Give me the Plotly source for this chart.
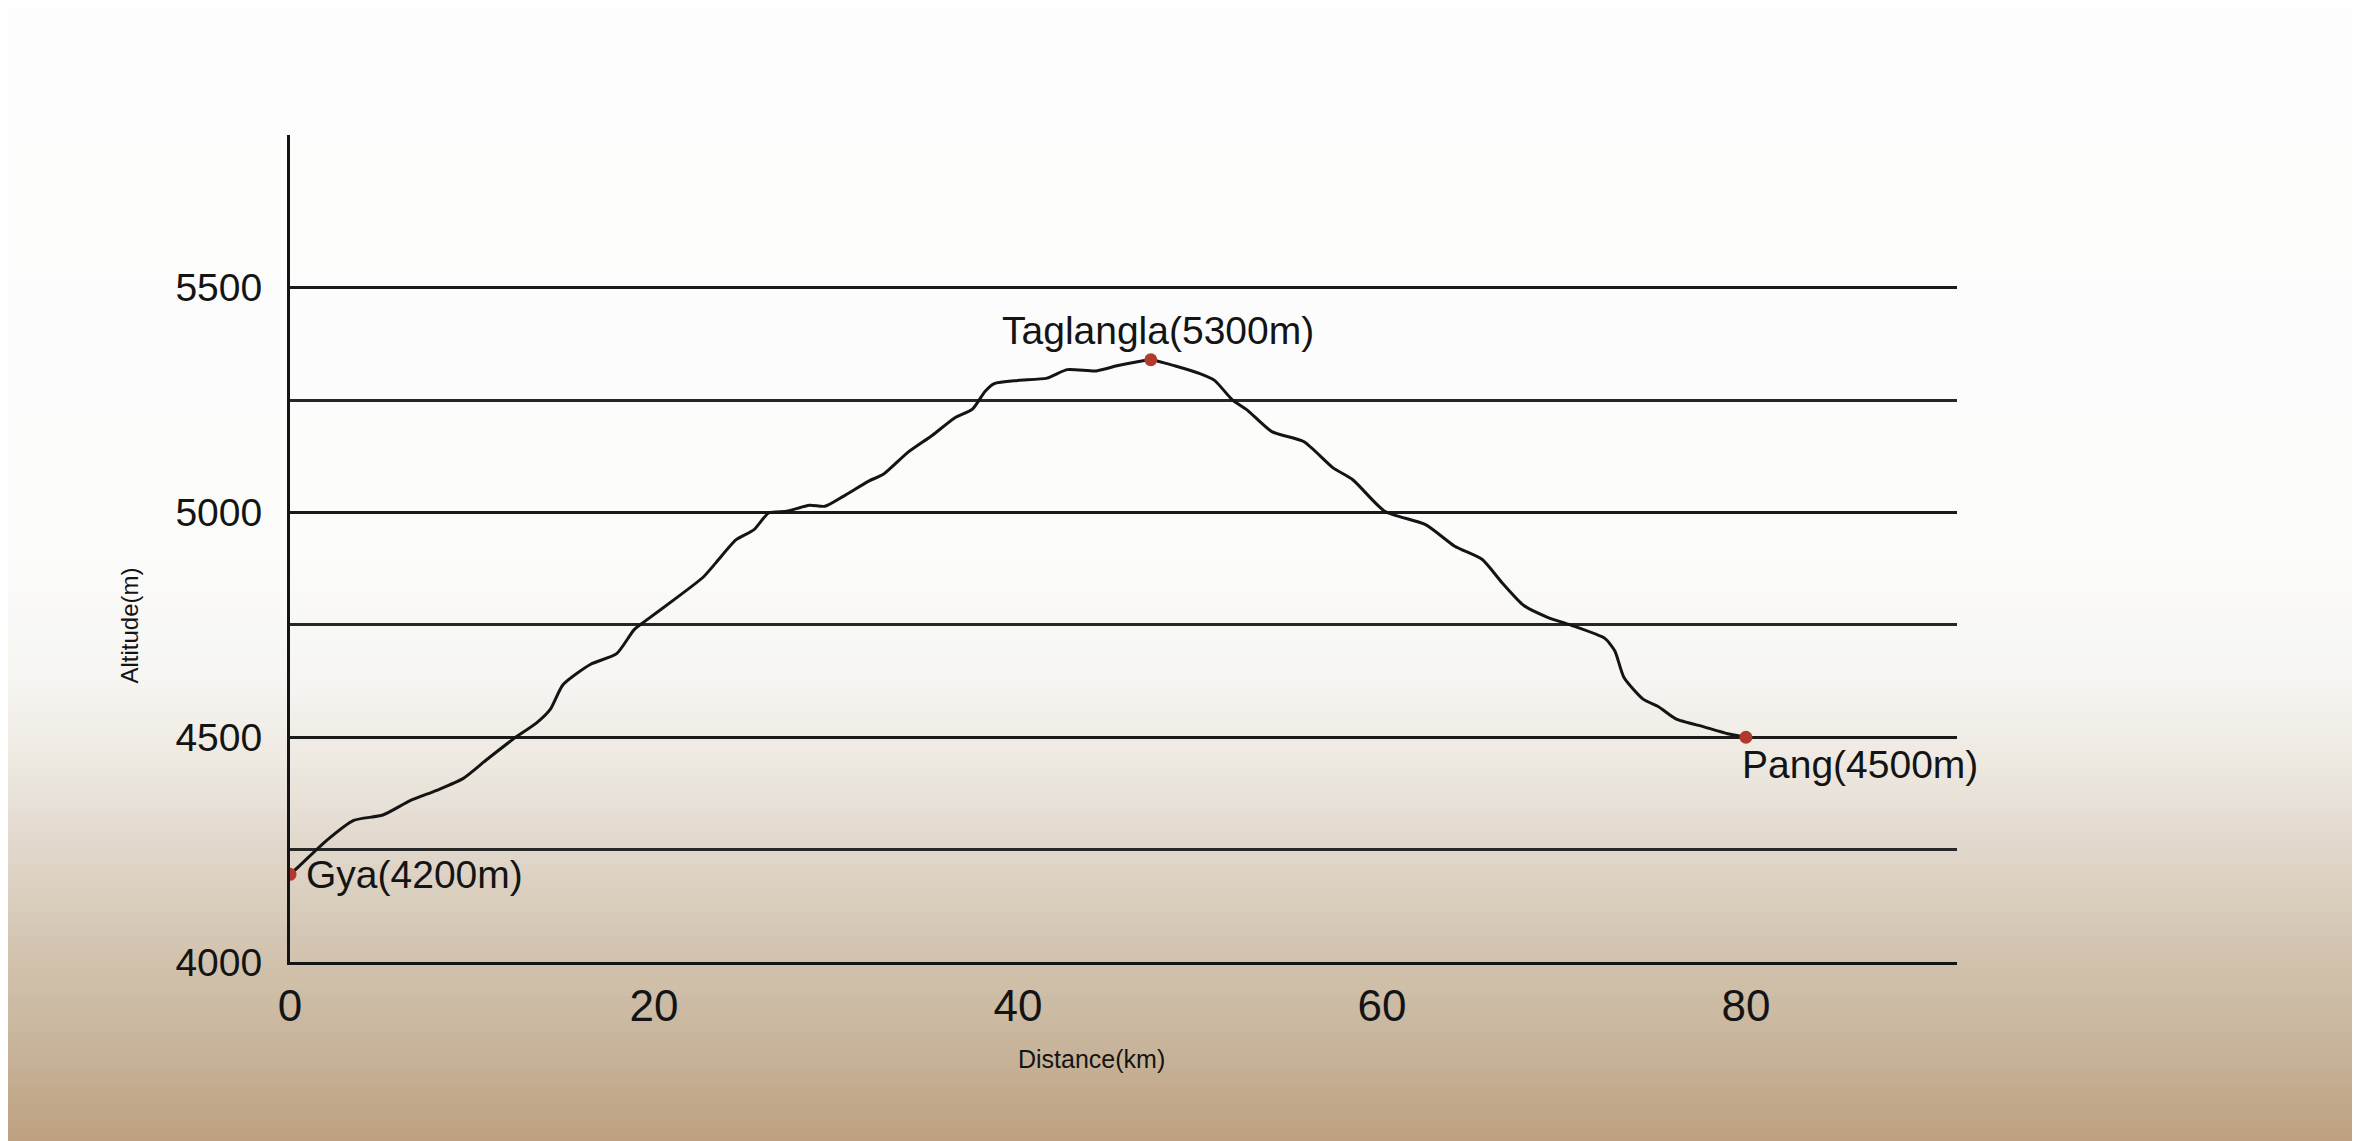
"""Altitude profile of the Gya - Taglangla - Pang road section.

Draws a hand-traced elevation profile (distance vs altitude) with the
three named places marked in red, on a paper-like white-to-sand backdrop.
"""

import plotly.graph_objects as go

# profile
distance_km = [0.0, 0.55, 2.0, 3.5, 5.1, 6.6, 8.06, 9.5, 10.8, 12.3, 13.55, 14.3,
               15.0, 16.5, 17.95, 18.9, 19.4, 21.2, 22.7, 23.4, 24.5, 25.5, 26.3,
               27.3, 28.55, 29.4, 30.4, 31.8, 32.6, 33.95, 35.3, 36.5, 37.5, 38.2,
               38.7, 40.0, 41.6, 42.7, 44.3, 45.5, 46.5, 47.3, 48.65, 50.0, 50.8,
               51.8, 52.6, 53.95, 55.7, 57.3, 58.4, 60.15, 62.4, 64.0, 65.5, 66.6,
               67.8, 69.1, 70.35, 72.25, 72.8, 73.3, 74.35, 75.2, 76.15, 77.7,
               79.0, 80.0]
altitude_m = [4195, 4215, 4270, 4315, 4327, 4359, 4382, 4408, 4450, 4497, 4532, 4562,
              4617, 4662, 4686, 4739, 4755, 4809, 4856, 4888, 4939, 4962, 4999,
              5003, 5016, 5014, 5036, 5070, 5085, 5134, 5172, 5210, 5230, 5270,
              5287, 5294, 5299, 5318, 5315, 5327, 5335, 5340, 5326, 5309, 5294,
              5250, 5228, 5180, 5158, 5100, 5073, 5003, 4973, 4925, 4896, 4844,
              4793, 4767, 4750, 4720, 4692, 4633, 4585, 4568, 4541, 4523,
              4508, 4500]

# named places
place_names = ["Gya(4200m)", "Taglangla(5300m)", "Pang(4500m)"]
place_km = [0.0, 47.3, 80.0]
place_alt = [4195, 5340, 4500]

x_ticks = [0, 20, 40, 60, 80]
y_ticks = [4000, 4500, 5000, 5500]

# page body has an 8px margin, so the figure is drawn 8px in from the corner
W, H = 2352, 1133
M_L, M_R, M_T, M_B = 282, 403, 127, 179
PLOT_W = W - M_L - M_R
PLOT_H = H - M_T - M_B

INK = "#141414"
DOT = "#b23a2c"
FONT = "Liberation Sans, Arial, Helvetica, sans-serif"

fig = go.Figure()

fig.add_trace(go.Scatter(x=distance_km, y=altitude_m, mode="lines",
                         line=dict(color=INK, width=3, shape="spline", smoothing=0.6),
                         hoverinfo="skip", showlegend=False))
fig.add_trace(go.Scatter(x=place_km, y=place_alt, mode="markers", text=place_names,
                         marker=dict(color=DOT, size=13), hovertemplate="%{text}<extra></extra>",
                         showlegend=False))

# labels: (xanchor, xshift, yshift) per place
label_pos = [("left", 14, 0), ("center", 7, 29), ("left", -6, -27)]
for name, x, y, (anc, dx, dy) in zip(place_names, place_km, place_alt, label_pos):
    fig.add_annotation(x=x, y=y, text=name, showarrow=False, xanchor=anc, yanchor="middle",
                       xshift=dx, yshift=dy, font=dict(family=FONT, size=39, color=INK))

# axis titles placed in paper space (page pixel -> paper fraction)
def px_x(px):
    return (px - 8 - M_L) / PLOT_W

def px_y(py):
    return (H - M_B - (py - 8)) / PLOT_H

fig.add_annotation(xref="paper", yref="paper", x=px_x(1091), y=px_y(1075),
                   text="Distance(km)", showarrow=False,
                   font=dict(family=FONT, size=25, color=INK))
fig.add_annotation(xref="paper", yref="paper", x=px_x(113), y=px_y(626),
                   text="Altitude(m)", showarrow=False, textangle=-90,
                   font=dict(family=FONT, size=24, color=INK))

# paper backdrop: white fading to sand towards the bottom (page pixel rows)
stops = [(0, (253, 253, 253)), (550, (252, 252, 251)), (680, (246, 245, 242)),
         (760, (238, 233, 225)), (850, (224, 215, 203)), (950, (211, 196, 176)),
         (1050, (199, 180, 154)), (1141, (190, 160, 128))]

def colour_at(py):
    for (p0, c0), (p1, c1) in zip(stops[:-1], stops[1:]):
        if p0 <= py <= p1:
            t = (py - p0) / (p1 - p0)
            return "rgb({},{},{})".format(*[round(a + (b - a) * t) for a, b in zip(c0, c1)])
    return "rgb(%d,%d,%d)" % stops[-1][1]

band = 6
for top in range(0, 1141 + 8, band):
    fig.add_shape(type="rect", xref="paper", yref="paper", x0=-1, x1=2,
                  y0=px_y(top + band), y1=px_y(top),
                  fillcolor=colour_at(top + band / 2), line_width=0, layer="below")

fig.update_xaxes(range=[0, 91.6], tickvals=x_ticks, showgrid=False, zeroline=False,
                 showline=True, linecolor=INK, linewidth=3, ticks="",
                 ticklabelstandoff=3, tickfont=dict(family=FONT, size=44, color=INK))
fig.update_yaxes(range=[4000, 5840], tickvals=y_ticks, showgrid=True, gridcolor="#1a1a1a",
                 gridwidth=3, zeroline=False, showline=True, linecolor=INK, linewidth=3,
                 ticks="", ticklabelstandoff=17, tickfont=dict(family=FONT, size=39, color=INK),
                 minor=dict(tickvals=[4250, 4750, 5250], showgrid=True,
                            gridcolor="#262626", gridwidth=2.6))

fig.update_layout(width=W, height=H, margin=dict(l=M_L, r=M_R, t=M_T, b=M_B),
                  paper_bgcolor="rgba(0,0,0,0)", plot_bgcolor="rgba(0,0,0,0)",
                  font=dict(family=FONT, color=INK), showlegend=False)

fig.write_html("out.html")
